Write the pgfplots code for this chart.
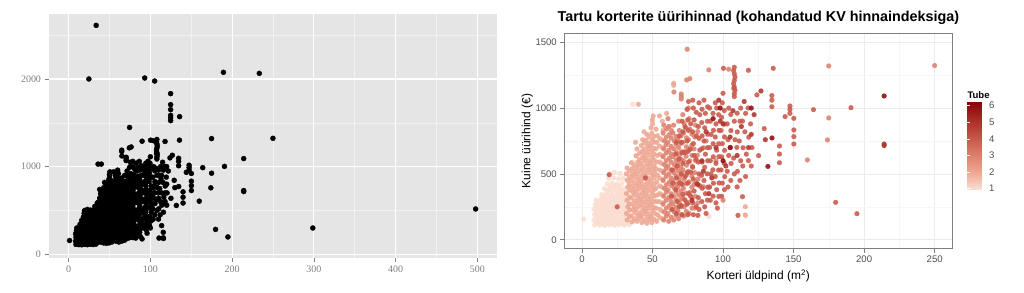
\documentclass[border=0pt]{standalone}
\usepackage{fontspec}
\setmainfont{Liberation Sans}
\newfontfamily\serifrm{Liberation Serif}
\usepackage{pgfplots}
\pgfplotsset{compat=1.18}
\usepackage{pgfplotstable}

\definecolor{panelgray}{RGB}{229,229,229}
\definecolor{minorwhite}{RGB}{242,242,242}
\definecolor{lefttext}{RGB}{127,127,127}
\definecolor{righttext}{RGB}{77,77,77}
\definecolor{bwgrid}{RGB}{235,235,235}
\definecolor{bwminor}{RGB}{246,246,246}
\definecolor{bwborder}{RGB}{127,127,127}

\pgfplotstableread[row sep=\\]{
x y t\\
9 112 1\\ 12.5 110 1\\ 16 108 1\\ 19.5 113 1\\ 23 109 1\\ 26.5 114 1\\ 30 111 1\\ 33.5 116 1\\
8.5 150 1\\ 12 146 1\\ 15.5 152 1\\ 19 148 1\\ 22.5 153 1\\ 26 147 1\\ 29.5 151 1\\ 33 149 1\\ 36.5 145 1\\
9 192 1\\ 12.5 188 1\\ 16 194 1\\ 19.5 186 1\\ 23 191 1\\ 26.5 195 1\\ 30 189 1\\ 33.5 193 1\\
8.5 232 1\\ 12 228 1\\ 15.5 235 1\\ 19 226 1\\ 22.5 231 1\\ 26 236 1\\ 29.5 229 1\\ 33 233 1\\
9.5 268 1\\ 13 274 1\\ 16.5 266 1\\ 20 272 1\\ 23.5 269 1\\ 27 275 1\\ 30.5 270 1\\
10 300 1\\ 13.5 312 1\\ 17 306 1\\ 20.5 309 1\\ 24 304 1\\ 27.5 311 1\\ 31 307 1\\
14 343 1\\ 17.5 350 1\\ 21 346 1\\ 24.5 341 1\\ 28 349 1\\ 31.5 344 1\\
16 388 1\\ 19.5 382 1\\ 23 390 1\\ 26.5 384 1\\ 30 387 1\\
18 424 1\\ 21.5 430 1\\ 25 422 1\\ 28.5 428 1\\
19 466 1\\ 22.5 470 1\\ 26 462 1\\ 29 468 1\\
20 500 1\\ 23 512 1\\ 27 504 1\\
10.7 130 1\\ 14.2 128 1\\ 17.7 131 1\\ 21.2 129 1\\ 24.7 132 1\\ 28.2 130 1\\ 31.7 128 1\\
10.5 170 1\\ 14 168 1\\ 17.5 172 1\\ 21 170 1\\ 24.5 167 1\\ 28 171 1\\ 31.5 169 1\\
10.3 210 1\\ 13.8 212 1\\ 17.3 209 1\\ 20.8 211 1\\ 24.3 208 1\\ 27.8 213 1\\ 31.3 210 1\\
11 250 1\\ 14.5 252 1\\ 18 249 1\\ 21.5 251 1\\ 25 248 1\\ 28.5 253 1\\ 32 250 1\\
11.8 288 1\\ 15.3 290 1\\ 18.8 287 1\\ 22.3 291 1\\ 25.8 289 1\\ 29.3 286 1\\
15.8 326 1\\ 19.3 328 1\\ 22.8 325 1\\ 26.3 329 1\\ 29.8 327 1\\
17.8 366 1\\ 21.3 368 1\\ 24.8 364 1\\ 28.3 367 1\\
19.8 406 1\\ 23.3 408 1\\ 26.8 405 1\\
1.2 157 1\\ 36 1029 1\\ 38 640 1\\ 36 590 1\\ 40 420 1\\ 43 300 1\\ 46 220 1\\ 42 180 1\\ 50 160 1\\ 48 260 1\\ 52 330 1\\ 89.9 175 1\\ 116 180 1\\
32 150 2\\ 31.5 200 2\\ 32.5 250 2\\ 32 300 2\\ 31.5 352 2\\ 32.5 400 2\\ 32 452 2\\ 31.5 500 2\\ 32 545 2\\
35.5 135 2\\ 35 180 2\\ 36 226 2\\ 35.5 270 2\\ 35 316 2\\ 36 360 2\\ 35.5 405 2\\ 35 450 2\\ 36 496 2\\ 35.5 540 2\\ 35 585 2\\
39 140 2\\ 39.5 186 2\\ 38.5 230 2\\ 39 276 2\\ 39.5 320 2\\ 38.5 366 2\\ 39 410 2\\ 39.5 456 2\\ 38.5 500 2\\ 39 546 2\\ 39.5 590 2\\ 38.5 636 2\\ 39 690 2\\
42.5 130 2\\ 42 175 2\\ 43 220 2\\ 42.5 266 2\\ 42 310 2\\ 43 356 2\\ 42.5 400 2\\ 42 446 2\\ 43 490 2\\ 42.5 536 2\\ 42 580 2\\ 43 626 2\\ 42.5 670 2\\ 42 716 2\\ 43 760 2\\
46 125 2\\ 46.5 170 2\\ 45.5 216 2\\ 46 260 2\\ 46.5 306 2\\ 45.5 350 2\\ 46 396 2\\ 46.5 440 2\\ 45.5 486 2\\ 46 530 2\\ 46.5 576 2\\ 45.5 620 2\\ 46 666 2\\ 46.5 710 2\\ 45.5 756 2\\ 46 800 2\\
49.5 130 2\\ 49 176 2\\ 50 220 2\\ 49.5 266 2\\ 49 310 2\\ 50 356 2\\ 49.5 400 2\\ 49 446 2\\ 50 490 2\\ 49.5 536 2\\ 49 580 2\\ 50 626 2\\ 49.5 670 2\\ 49 716 2\\ 50 760 2\\ 49.5 810 2\\ 49 850 2\\
53 140 2\\ 53.5 190 2\\ 52.5 240 2\\ 53 290 2\\ 53.5 340 2\\ 52.5 390 2\\ 53 440 2\\ 53.5 490 2\\ 52.5 540 2\\ 53 590 2\\ 53.5 640 2\\ 52.5 690 2\\ 53 740 2\\ 53.5 790 2\\ 52.5 840 2\\
57 160 2\\ 56.5 220 2\\ 57.5 280 2\\ 57 340 2\\ 56.5 400 2\\ 57.5 460 2\\ 57 520 2\\ 56.5 580 2\\ 57.5 640 2\\ 57 700 2\\ 56.5 760 2\\ 57.5 830 2\\ 57 900 2\\
33.7 175 2\\ 33.9 226 2\\ 33.6 274 2\\ 33.8 325 2\\ 33.7 377 2\\ 33.5 424 2\\ 33.8 476 2\\ 33.7 521 2\\
37.2 160 2\\ 37.4 206 2\\ 37.1 249 2\\ 37.3 296 2\\ 37.2 341 2\\ 37 384 2\\ 37.3 431 2\\ 37.2 474 2\\ 37.4 521 2\\ 37.1 566 2\\
40.7 161 2\\ 40.9 204 2\\ 40.6 251 2\\ 40.8 294 2\\ 40.7 341 2\\ 40.5 386 2\\ 40.8 429 2\\ 40.7 476 2\\ 40.9 519 2\\ 40.6 566 2\\ 40.8 609 2\\ 40.7 656 2\\
44.2 150 2\\ 44.4 196 2\\ 44.1 239 2\\ 44.3 286 2\\ 44.2 329 2\\ 44 376 2\\ 44.3 419 2\\ 44.2 466 2\\ 44.4 509 2\\ 44.1 556 2\\ 44.3 599 2\\ 44.2 646 2\\ 44 689 2\\ 44.3 736 2\\
47.7 151 2\\ 47.9 194 2\\ 47.6 241 2\\ 47.8 284 2\\ 47.7 331 2\\ 47.5 374 2\\ 47.8 421 2\\ 47.7 464 2\\ 47.9 511 2\\ 47.6 554 2\\ 47.8 601 2\\ 47.7 644 2\\ 47.5 691 2\\ 47.8 734 2\\ 47.7 781 2\\
51.2 155 2\\ 51.4 201 2\\ 51.1 244 2\\ 51.3 291 2\\ 51.2 334 2\\ 51 381 2\\ 51.3 424 2\\ 51.2 471 2\\ 51.4 514 2\\ 51.1 561 2\\ 51.3 604 2\\ 51.2 651 2\\ 51 694 2\\ 51.3 741 2\\ 51.2 786 2\\
55 170 2\\ 55.2 231 2\\ 54.9 289 2\\ 55.1 351 2\\ 55 409 2\\ 54.8 471 2\\ 55.1 529 2\\ 55 591 2\\ 55.2 649 2\\ 54.9 711 2\\ 55.1 769 2\\
40 1029 2\\ 49.9 910 2\\ 50.5 940 2\\ 50 880 2\\ 115.8 251 2\\ 115.8 188 2\\ 65 1173 2\\ 65 1188 2\\ 60 960 2\\ 62 860 2\\ 55 940 2\\ 38 740 2\\ 44 820 2\\
58 150 3\\ 58.5 210 3\\ 57.5 270 3\\ 58 330 3\\ 58.5 390 3\\ 57.5 450 3\\ 58 510 3\\ 58.5 570 3\\ 57.5 630 3\\ 58 690 3\\ 58.5 750 3\\ 57.5 810 3\\ 58 870 3\\
61.5 140 3\\ 61 200 3\\ 62 260 3\\ 61.5 320 3\\ 61 380 3\\ 62 440 3\\ 61.5 500 3\\ 61 560 3\\ 62 620 3\\ 61.5 680 3\\ 61 740 3\\ 62 800 3\\ 61.5 860 3\\ 61 920 3\\
65 150 3\\ 65.5 210 3\\ 64.5 270 3\\ 65 330 3\\ 65.5 390 3\\ 64.5 450 3\\ 65 510 3\\ 65.5 570 3\\ 64.5 630 3\\ 65 690 3\\ 65.5 750 3\\ 64.5 810 3\\ 65 870 3\\
68.5 160 3\\ 68 220 3\\ 69 280 3\\ 68.5 340 3\\ 68 400 3\\ 69 460 3\\ 68.5 520 3\\ 68 580 3\\ 69 640 3\\ 68.5 700 3\\ 68 760 3\\ 69 830 3\\ 68.5 900 3\\ 70.4 1069 3\\ 70.4 1088 3\\ 70.4 1107 3\\
72 180 3\\ 72.5 250 3\\ 71.5 320 3\\ 72 390 3\\ 72.5 460 3\\ 71.5 530 3\\ 72 600 3\\ 72.5 670 3\\ 71.5 740 3\\ 72 810 3\\ 72.5 880 3\\ 71.5 950 3\\ 74.2 1214 3\\ 76.5 1224 3\\ 74.6 1447 3\\
76 200 3\\ 75.5 280 3\\ 76.5 360 3\\ 76 440 3\\ 75.5 520 3\\ 76.5 600 3\\ 76 680 3\\ 75.5 760 3\\ 76.5 840 3\\ 76 920 3\\ 75.5 1000 3\\
80 240 3\\ 80.5 330 3\\ 79.5 420 3\\ 80 510 3\\ 80.5 600 3\\ 79.5 690 3\\ 80 780 3\\ 80.5 870 3\\
59.8 180 3\\ 59.9 241 3\\ 59.7 299 3\\ 59.8 361 3\\ 60 419 3\\ 59.8 481 3\\ 59.6 539 3\\ 59.8 601 3\\ 59.9 659 3\\ 59.7 721 3\\ 59.8 779 3\\ 60 841 3\\
63.3 171 3\\ 63.4 229 3\\ 63.2 291 3\\ 63.3 349 3\\ 63.5 411 3\\ 63.3 469 3\\ 63.1 531 3\\ 63.3 589 3\\ 63.4 651 3\\ 63.2 709 3\\ 63.3 771 3\\ 63.5 829 3\\
66.8 185 3\\ 66.9 246 3\\ 66.7 304 3\\ 66.8 366 3\\ 67 424 3\\ 66.8 486 3\\ 66.6 544 3\\ 66.8 606 3\\ 66.9 664 3\\ 66.7 726 3\\ 66.8 784 3\\
70.3 190 3\\ 70.4 251 3\\ 70.2 309 3\\ 70.3 371 3\\ 70.5 429 3\\ 70.3 491 3\\ 70.1 549 3\\ 70.3 611 3\\ 70.4 669 3\\ 70.2 731 3\\ 70.3 789 3\\
74 215 3\\ 74.1 286 3\\ 73.9 354 3\\ 74 426 3\\ 74.2 494 3\\ 74 566 3\\ 73.8 634 3\\ 74 706 3\\ 74.1 774 3\\ 73.9 846 3\\
78 240 3\\ 78.1 321 3\\ 77.9 399 3\\ 78 481 3\\ 78.2 559 3\\ 78 641 3\\ 77.8 719 3\\ 78 801 3\\
82 280 3\\ 82.3 462 3\\ 81.8 641 3\\ 82.1 822 3\\ 86 402 3\\ 86.2 699 3\\
174.9 1320 3\\ 250 1323 3\\ 174.9 925 3\\ 174 758 3\\ 159.8 606 3\\ 89.9 1290 3\\ 65.2 1122 3\\ 90 400 3\\ 95 600 3\\ 88 750 3\\ 100 300 3\\ 104 1295 3\\
64 230 4\\ 63.5 330 4\\ 64.5 430 4\\ 64 530 4\\
67 200 4\\ 67.5 290 4\\ 66.5 380 4\\ 67 470 4\\ 67.5 560 4\\ 66.5 650 4\\ 67 740 4\\
71 190 4\\ 70.5 260 4\\ 71.5 345 4\\ 71 420 4\\ 70.5 500 4\\ 71.5 580 4\\ 71 660 4\\ 70.5 740 4\\ 71.5 820 4\\ 71 900 4\\
75 190 4\\ 74.5 270 4\\ 75.5 350 4\\ 75 430 4\\ 74.5 510 4\\ 75.5 590 4\\ 75 670 4\\ 74.5 750 4\\ 75.5 830 4\\ 75 910 4\\ 74.5 990 4\\ 75.5 1050 4\\
79 190 4\\ 78.5 280 4\\ 79.5 370 4\\ 79 460 4\\ 78.5 550 4\\ 79.5 640 4\\ 79 730 4\\ 78.5 820 4\\ 79.5 910 4\\ 79 1000 4\\ 78.5 1060 4\\
83 230 4\\ 82.5 320 4\\ 83.5 410 4\\ 83 500 4\\ 82.5 590 4\\ 83.5 680 4\\ 83 770 4\\ 82.5 860 4\\ 83.5 950 4\\ 83 1040 4\\ 82.2 185 4\\
87 250 4\\ 87.5 350 4\\ 86.5 450 4\\ 87 550 4\\ 87.5 650 4\\ 86.5 750 4\\ 87 850 4\\ 87.5 960 4\\ 86.5 1060 4\\
91 300 4\\ 90.5 400 4\\ 91.5 500 4\\ 91 600 4\\ 90.5 700 4\\ 91.5 800 4\\ 91 900 4\\ 90.5 1000 4\\
95 280 4\\ 95.5 380 4\\ 94.5 480 4\\ 95 580 4\\ 95.5 680 4\\ 94.5 780 4\\ 95 880 4\\ 95.5 1000 4\\ 94.5 1040 4\\
99 330 4\\ 99.5 430 4\\ 98.5 530 4\\ 99 630 4\\ 99.5 730 4\\ 98.5 830 4\\ 99 930 4\\ 99.5 1040 4\\ 100 1112 4\\ 100.3 1302 4\\
103.5 400 4\\ 103 520 4\\ 104 640 4\\ 103.5 760 4\\ 103 880 4\\ 104 1000 4\\ 107.6 1150 4\\
108 1087 4\\ 108 1110 4\\ 108.5 1135 4\\ 108 1160 4\\ 107.5 1185 4\\ 108 1210 4\\ 108.5 1235 4\\ 108 1260 4\\ 107.5 1285 4\\ 108 1310 4\\ 108 900 4\\ 108.5 760 4\\ 107.5 620 4\\ 108 500 4\\
112 450 4\\ 112.5 600 4\\ 111.5 750 4\\ 112 900 4\\ 112.5 1000 4\\
116 480 4\\ 116.5 650 4\\ 115.5 820 4\\ 116 960 4\\
120 560 4\\ 120.5 700 4\\ 119.5 880 4\\
69 252 4\\ 69.2 431 4\\ 68.8 612 4\\ 69.1 789 4\\ 73 302 4\\ 73.2 481 4\\ 72.8 662 4\\ 73.1 858 4\\ 77 331 4\\ 77.2 512 4\\ 76.8 689 4\\ 77.1 881 4\\ 81 252 4\\ 81.2 431 4\\ 80.8 612 4\\ 81.1 789 4\\ 81 968 4\\
85 290 4\\ 85.2 391 4\\ 84.8 489 4\\ 85.1 590 4\\ 85 691 4\\ 85.2 789 4\\ 84.9 890 4\\ 85.1 991 4\\
89 301 4\\ 89.2 399 4\\ 88.8 501 4\\ 89.1 600 4\\ 89 699 4\\ 89.2 801 4\\ 88.9 900 4\\ 89.1 1010 4\\
93 331 4\\ 93.2 429 4\\ 92.8 531 4\\ 93.1 630 4\\ 93 729 4\\ 93.2 831 4\\ 92.9 960 4\\
97 329 4\\ 97.2 431 4\\ 96.8 529 4\\ 97.1 631 4\\ 97 729 4\\ 97.2 831 4\\ 96.9 950 4\\
101 381 4\\ 101.2 479 4\\ 100.8 581 4\\ 101.1 679 4\\ 101 781 4\\ 101.2 879 4\\ 100.9 981 4\\
105.5 450 4\\ 105.7 579 4\\ 105.3 701 4\\ 105.6 829 4\\ 105.5 951 4\\
110 401 4\\ 110.2 519 4\\ 109.8 701 4\\ 110.1 819 4\\ 110 961 4\\
114 560 4\\ 114.2 699 4\\ 113.8 901 4\\ 118 601 4\\ 118.2 779 4\\ 117.8 1001 4\\
135.6 1302 4\\ 118 1287 4\\ 124 1100 4\\ 134.6 1095 4\\ 134.6 1060 4\\ 134.6 1010 4\\ 147.4 1016 4\\ 147.4 990 4\\ 147.4 960 4\\ 150.2 922 4\\ 150.2 834 4\\ 150.2 783 4\\ 150.2 727 4\\ 144 935 4\\ 140 712 4\\ 140 651 4\\ 140 585 4\\ 129.2 844 4\\ 125.2 639 4\\ 110.6 185 4\\ 113.8 327 4\\ 164.1 988 4\\ 190.7 1003 4\\ 179.8 284 4\\ 194.9 198 4\\ 19.3 494 4\\ 25 250 4\\ 45 470 4\\ 88 200 4\\ 96 240 4\\
85 600 5\\ 88 820 5\\ 92 470 5\\ 95 700 5\\ 98 900 5\\ 102 560 5\\ 105 780 5\\ 110 640 5\\ 113 860 5\\ 118 700 5\\ 122 950 5\\ 126.9 1130 5\\ 130 760 5\\ 120 800 5\\ 107 980 5\\ 100 880 5\\ 82 420 5\\ 90 350 5\\ 97 1060 5\\ 115 1050 5\\ 214.2 727 5\\ 214.2 715 5\\ 78 300 5\\ 86 520 5\\
131.8 557 6\\ 134.7 773 6\\ 93 920 6\\ 100 600 6\\ 98 1000 6\\ 214.2 1092 6\\ 105 700 6\\ 120 1000 6\\
}\core

\pgfplotstableread[row sep=\\]{
x y\\
33.7 2612\\ 24.8 2000\\ 93.1 2011\\ 105.3 1977\\ 189.4 2076\\ 233.3 2064\\ 124.8 1833\\ 124.8 1707\\ 124.8 1650\\ 124.8 1585\\ 124.8 1555\\ 124.8 1525\\ 135.8 1570\\ 298.8 300\\ 498 517\\
}\leftextra

\begin{document}
\begin{tikzpicture}
\useasboundingbox (0,0) rectangle (1024bp,293bp);
% ---------- left panel ----------
\begin{axis}[
  at={(49bp,35.3bp)}, anchor=south west, scale only axis,
  width=448.3bp, height=243.4bp,
  xmin=-24, xmax=524.5, ymin=-39, ymax=2738,
  axis background/.style={fill=panelgray},
  axis line style={draw=none},
  xtick={0,100,...,500}, ytick={0,1000,2000},
  minor xtick={50,150,...,450}, minor ytick={500,1500,2500},
  grid=both,
  major grid style={white, line width=1.1bp},
  minor grid style={minorwhite, line width=0.5bp},
  tick align=outside, tick pos=left,
  major tick length=4.5bp, minor tick length=0pt,
  tick style={lefttext, line width=0.5bp},
  ticklabel style={font=\fontsize{10}{11}\selectfont\serifrm, text=lefttext},
  /pgf/number format/assume math mode=true,
  /pgf/number format/1000 sep={},
]
\addplot[only marks, mark=*, mark size=2.5bp, black] table[x=x,y=y]{\core};
\addplot[only marks, mark=*, mark size=2.5bp, black] table[x=x,y=y]{\leftextra};
\end{axis}
% ---------- right panel ----------
\begin{axis}[
  at={(564.3bp,44.3bp)}, anchor=south west, scale only axis,
  width=388bp, height=215.4bp,
  xmin=-12.5, xmax=262.5, ymin=-68, ymax=1568,
  xtick={0,50,...,250}, ytick={0,500,1000,1500},
  minor xtick={25,75,...,225}, minor ytick={250,750,1250},
  grid=both,
  major grid style={bwgrid, line width=0.6bp},
  minor grid style={bwminor, line width=0.5bp},
  axis line style={bwborder, line width=0.6bp},
  tick align=outside, tick pos=left,
  major tick length=4bp, minor tick length=0pt,
  tick style={bwborder, line width=0.5bp},
  ticklabel style={font=\fontsize{9.6}{11}\selectfont, text=righttext},
  /pgf/number format/assume math mode=true,
  /pgf/number format/1000 sep={},
  title={Tartu korterite üürihinnad (kohandatud KV hinnaindeksiga)},
  title style={font=\fontsize{14.4}{16}\selectfont\bfseries, at={(axis description cs:0.5,1)}, anchor=center, yshift=9bp},
  xlabel={Korteri üldpind (m\textsuperscript{2})},
  xlabel style={font=\fontsize{12}{14}\selectfont, at={(axis description cs:0.5,0)}, anchor=center, yshift=-27.3bp},
  ylabel={Kuine üürihind (€)},
  ylabel style={font=\fontsize{12}{14}\selectfont, at={(axis description cs:-0.0954,0.5)}, anchor=center},
  colormap={tube}{rgb255=(252,224,212) rgb255=(238,168,148) rgb255=(219,127,107) rgb255=(198,84,70) rgb255=(170,44,38) rgb255=(140,0,10)},
  point meta min=0.92, point meta max=6.24,
  colorbar,
  colorbar style={
    at={(parent axis.north east)}, anchor=north west, xshift=6.5bp, yshift=-68.4bp,
    scale only axis, width=17.7bp, height=88.3bp,
    ytick={1,2,3,4,5,6}, minor ytick={}, minor xtick={}, xtick=\empty, grid=none,
    yticklabel pos=right, ytick pos=both,
    tick align=inside, major tick length=3bp,
    tick style={white, line width=0.6bp},
    axis line style={draw=none},
    /pgf/number format/assume math mode=true,
    yticklabel style={font=\fontsize{9.6}{11}\selectfont, text=righttext, inner sep=0pt, xshift=4bp, /pgf/number format/assume math mode=true},
    xlabel={}, ylabel={},
    title={Tube},
    every axis title/.style={font=\fontsize{9.6}{11}\selectfont\bfseries, at={(axis description cs:0,1)}, anchor=base west, yshift=3bp, inner sep=0pt},
  },
]
\addplot[scatter, only marks, mark=*, mark size=2.45bp, scatter src=explicit,
  scatter/use mapped color={draw=mapped color, fill=mapped color},
  mark options={line width=0.1bp}, opacity=0.88]
  table[x=x,y=y,meta=t]{\core};
\end{axis}
\end{tikzpicture}
\end{document}
